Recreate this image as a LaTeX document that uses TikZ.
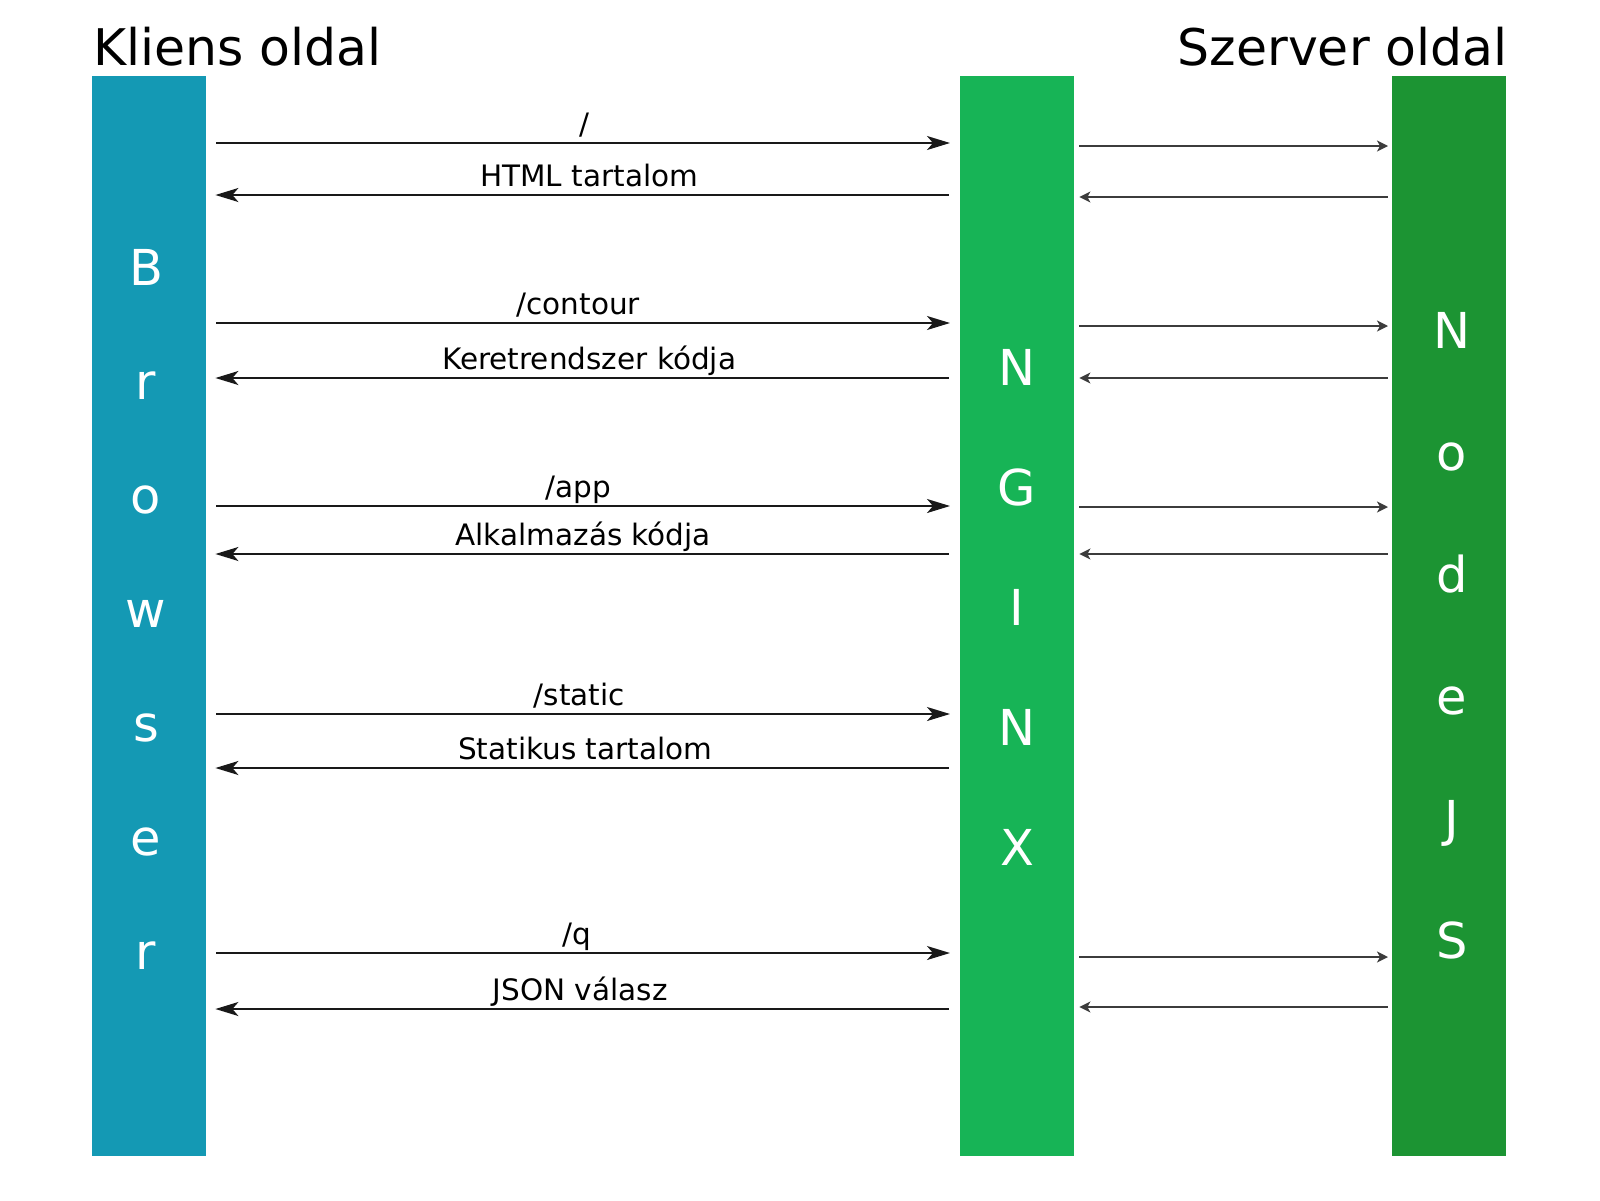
\documentclass[tikz,border=0pt]{standalone}
\usepackage{fontspec}
\setmainfont{DejaVu Sans}
\usetikzlibrary{arrows.meta}
\definecolor{browsercol}{RGB}{20,153,180}
\definecolor{nginxcol}{RGB}{23,180,86}
\definecolor{nodecol}{RGB}{28,148,51}
\definecolor{linecol}{RGB}{25,25,25}
\begin{document}
\begin{tikzpicture}[x=1pt,y=-1pt,
  bar/.style={rectangle, draw=none, inner sep=0pt, minimum width=114pt, minimum height=1080pt, anchor=north west},
  barletter/.style={font=\fontsize{49.5}{58}\selectfont, text=white, anchor=base, inner sep=0pt},
  header/.style={font=\fontsize{50.5}{60}\selectfont, inner sep=0pt},
  lbl/.style={font=\fontsize{29.5}{35}\selectfont, anchor=base, inner sep=0pt, yshift=9pt},
  bigreq/.style={draw=linecol, line width=1.8pt, -{Stealth[length=23pt,width=14pt,inset=6pt]}},
  bigret/.style={draw=linecol, line width=1.8pt, {Stealth[length=23pt,width=14pt,inset=6pt]}-},
  smallreq/.style={draw=linecol!85, line width=1.8pt, -{Stealth[length=11pt,width=11pt,inset=3pt]}},
  smallret/.style={draw=linecol!85, line width=1.8pt, {Stealth[length=11pt,width=11pt,inset=3pt]}-}
]
\useasboundingbox (0,0) rectangle (1600,1200);

% headers
\node[header, anchor=base west] (kliens) at (93,65) {Kliens oldal};
\node[header, anchor=base east] (szerver) at (1508,65) {Szerver oldal};

% bars
\node[bar, fill=browsercol] (browser) at (92,76) {};
\node[bar, fill=nginxcol] (nginx) at (960,76) {};
\node[bar, fill=nodecol] (nodejs) at (1392,76) {};

% bar letters
\foreach \l [count=\i from 0] in {B,r,o,w,s,e,r}
  \node[barletter] (bl\i) at ({146},{285+114*\i}) {\l};
\foreach \l [count=\i from 0] in {N,G,I,N,X}
  \node[barletter] (nl\i) at ({1017},{385.5+120*\i}) {\l};
\foreach \l [count=\i from 0] in {N,o,d,e,J,S}
  \node[barletter] (jl\i) at ({1452},{348+122*\i}) {\l};

% row coordinates (left side)
\coordinate (q1) at (0,143);  \coordinate (a1) at (0,195);
\coordinate (q2) at (0,323);  \coordinate (a2) at (0,378);
\coordinate (q3) at (0,506);  \coordinate (a3) at (0,554);
\coordinate (q4) at (0,714);  \coordinate (a4) at (0,768);
\coordinate (q5) at (0,953);  \coordinate (a5) at (0,1009);
% row coordinates (right side)
\coordinate (s1) at (0,146);  \coordinate (t1) at (0,197);
\coordinate (s2) at (0,326);  \coordinate (t2) at (0,378);
\coordinate (s3) at (0,507);  \coordinate (t3) at (0,554);
\coordinate (s5) at (0,957);  \coordinate (t5) at (0,1007);

% browser <-> nginx
\draw[bigreq] ([xshift=10pt]browser.east |- q1) -- ([xshift=-10pt]nginx.west |- q1) node[lbl, midway, xshift=1pt] {/};
\draw[bigret] ([xshift=9pt]browser.east |- a1) -- ([xshift=-11pt]nginx.west |- a1) node[lbl, midway, xshift=7pt] {HTML tartalom};
\draw[bigreq] ([xshift=10pt]browser.east |- q2) -- ([xshift=-10pt]nginx.west |- q2) node[lbl, midway, xshift=-5pt] {/contour};
\draw[bigret] ([xshift=9pt]browser.east |- a2) -- ([xshift=-11pt]nginx.west |- a2) node[lbl, midway, xshift=7pt] {Keretrendszer kódja};
\draw[bigreq] ([xshift=10pt]browser.east |- q3) -- ([xshift=-10pt]nginx.west |- q3) node[lbl, midway, xshift=-5pt] {/app};
\draw[bigret] ([xshift=9pt]browser.east |- a3) -- ([xshift=-11pt]nginx.west |- a3) node[lbl, midway, xshift=1pt] {Alkalmazás kódja};
\draw[bigreq] ([xshift=10pt]browser.east |- q4) -- ([xshift=-10pt]nginx.west |- q4) node[lbl, midway, xshift=-4pt] {/static};
\draw[bigret] ([xshift=9pt]browser.east |- a4) -- ([xshift=-11pt]nginx.west |- a4) node[lbl, midway, xshift=3pt] {Statikus tartalom};
\draw[bigreq] ([xshift=10pt]browser.east |- q5) -- ([xshift=-10pt]nginx.west |- q5) node[lbl, midway, xshift=-6pt] {/q};
\draw[bigret] ([xshift=9pt]browser.east |- a5) -- ([xshift=-11pt]nginx.west |- a5) node[lbl, midway, xshift=-2pt] {JSON válasz};

% nginx <-> nodejs
\foreach \r in {1,2,3,5} {
  \draw[smallreq] ([xshift=5pt]nginx.east |- s\r) -- ([xshift=-4pt]nodejs.west |- s\r);
  \draw[smallret] ([xshift=5pt]nginx.east |- t\r) -- ([xshift=-4pt]nodejs.west |- t\r);
}
\end{tikzpicture}
\end{document}
